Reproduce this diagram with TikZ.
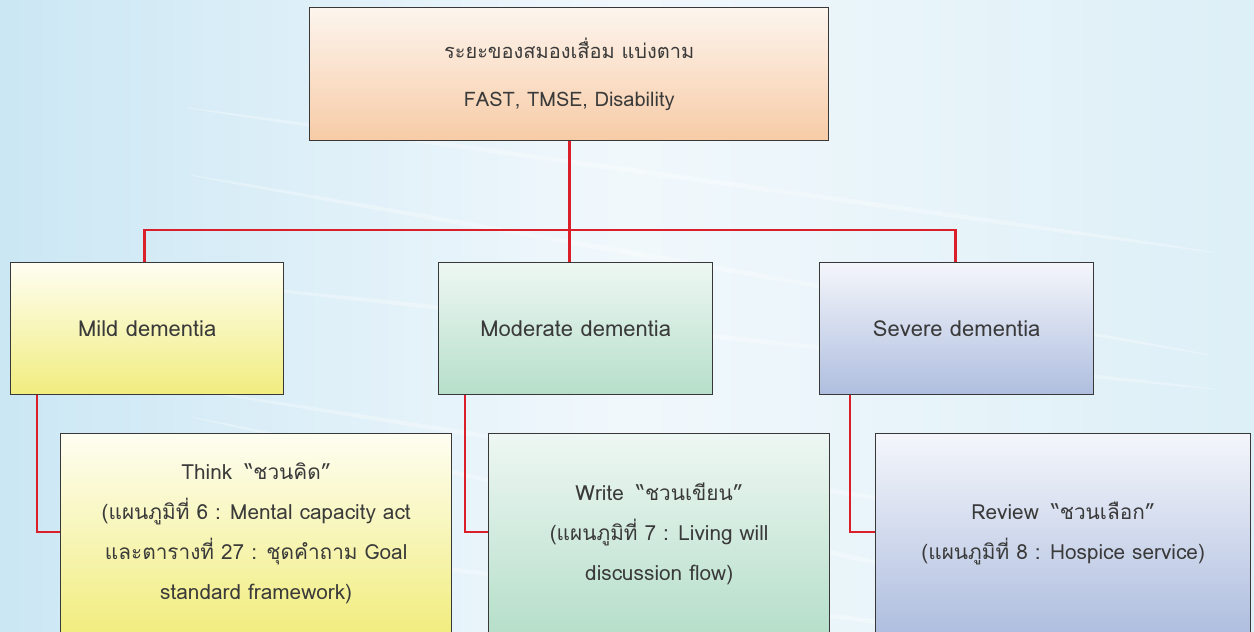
\documentclass[tikz,border=0pt]{standalone}
\usepackage{fontspec}
\setmainfont[Script=Thai]{Loma}
\definecolor{skyL}{HTML}{CBE7F4}
\definecolor{skyM}{HTML}{F1F8FC}
\definecolor{skyR}{HTML}{DDEFF7}
\definecolor{linkred}{HTML}{DA1F2A}
\definecolor{ink}{HTML}{3A3A3A}
\definecolor{peachT}{HTML}{FDF5EE}\definecolor{peachB}{HTML}{F7CBA6}
\definecolor{yelT}{HTML}{FEFEF2}\definecolor{yelB}{HTML}{F1ED7F}
\definecolor{grnT}{HTML}{EEF7F3}\definecolor{grnB}{HTML}{B6DFCA}
\definecolor{bluT}{HTML}{F4F6FB}\definecolor{bluB}{HTML}{AFBEDF}
\begin{document}
\begin{tikzpicture}[x=1pt,y=-1pt,
  txt/.style={text=ink, font=\fontsize{20.8}{40}\selectfont, align=center},
  box/.style={txt, draw=black!78, line width=1.4pt, rectangle, anchor=north west, inner sep=0pt},
  link/.style={draw=linkred, line width=2.8pt},
  streak/.style={white, opacity=0.3}]
  % page and soft sky background
  \useasboundingbox (0,0) rectangle (1254,632);
  \clip (0,0) rectangle (1254,632);
  \shade[left color=skyL, right color=skyR, middle color=skyM] (0,0) rectangle (1254,632);
  \foreach \yy/\rr in {180/-8, 265/-10, 335/-6, 470/-9, 525/-12, 600/-7} {
    \fill[streak, rotate around={\rr:(700,\yy)}] (700,\yy) ellipse (520 and 2.5);
  }
  % top box
  \node[box, minimum width=519, minimum height=133, top color=peachT, bottom color=peachB,
        font=\fontsize{20}{48}\selectfont] (top) at (309,7)
        {ระยะของสมองเสื่อม แบ่งตาม\\FAST, TMSE, Disability};
  % stage boxes
  \node[box, minimum width=273, minimum height=132, top color=yelT, bottom color=yelB, font=\fontsize{22}{26}\selectfont] (mild) at (10,262) {Mild dementia};
  \node[box, minimum width=274, minimum height=132, top color=grnT, bottom color=grnB, font=\fontsize{22}{26}\selectfont] (mod) at (438,262) {Moderate dementia};
  \node[box, minimum width=274, minimum height=132, top color=bluT, bottom color=bluB, font=\fontsize{22}{26}\selectfont] (sev) at (819,262) {Severe dementia};
  % action boxes
  \node[box, minimum width=391, minimum height=200, top color=yelT, bottom color=yelB] (think) at (60,433)
    {Think\hspace{0.6em}“ชวนคิด”\\(แผนภูมิที่ 6 : Mental capacity act\\และตารางที่ 27 : ชุดคำถาม Goal\\standard framework)};
  \node[box, minimum width=341, minimum height=200, top color=grnT, bottom color=grnB] (write) at (488,433)
    {Write\hspace{0.6em}“ชวนเขียน”\\(แผนภูมิที่ 7 : Living will\\discussion flow)};
  \node[box, minimum width=375, minimum height=200, top color=bluT, bottom color=bluB] (rev) at (875,433)
    {Review\hspace{0.6em}“ชวนเลือก”\\(แผนภูมิที่ 8 : Hospice service)};
  % connectors
  \coordinate (bus) at (0,230);
  \draw[link] (top.south) -- (top.south |- mod.north);
  \draw[link] ([xshift=-3pt]mild.north) |- (bus -| top.south) -| ([xshift=-1pt]sev.north);
  \draw[link] ([xshift=27pt]mild.south west) |- ([yshift=-99pt]think.north west);
  \draw[link] ([xshift=27pt]mod.south west) |- ([yshift=-99pt]write.north west);
  \draw[link] ([xshift=31pt]sev.south west) |- ([yshift=-99pt]rev.north west);
\end{tikzpicture}
\end{document}
